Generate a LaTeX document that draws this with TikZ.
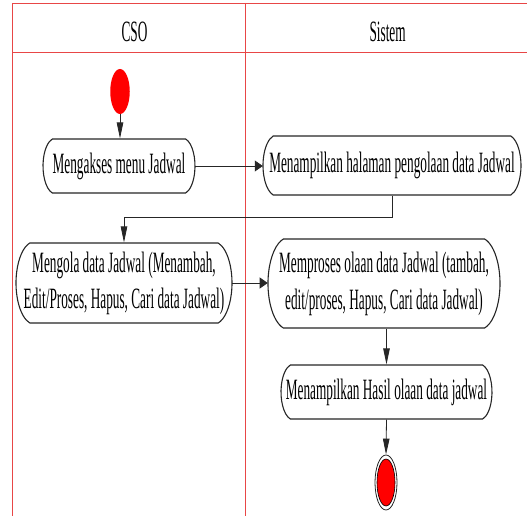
\documentclass[tikz,border=0pt]{standalone}
\usepackage{fontspec}
\setmainfont{Liberation Serif}
\usetikzlibrary{arrows.meta,shapes.misc,shapes.geometric}
\definecolor{lanered}{RGB}{232,70,70}

\begin{document}
\begin{tikzpicture}[x=1pt,y=1pt,
  lane/.style={draw=lanered,line width=0.9pt},
  lanehead/.style={inner sep=0pt,font=\fontsize{29.5}{36}\selectfont},
  act/.style={rounded rectangle, rounded rectangle arc length=150,
    draw=black!85, line width=1.1pt, fill=white, inner sep=0pt,
    font=\fontsize{29.5}{36.5}\selectfont},
  startdot/.style={ellipse, fill=red, inner sep=0pt,
    minimum width=19.5pt, minimum height=45pt},
  flow/.style={draw=black!85, line width=0.8pt},
  vtip/.style={flow, -{Triangle[length=16pt,width=6.5pt]}},
  htip/.style={flow, -{Triangle[length=8pt,width=11pt]}},
]
\useasboundingbox (0,0) rectangle (527,-516);

% swimlane frame
\draw[lane] (12.3,-540) -- (12.3,-3) -- (540,-3);
\draw[lane] (12.3,-52) -- (540,-52);
\draw[lane] (245.6,-3) -- (245.6,-540);

% condensed text and activity boxes
\begin{scope}[x=2.22222pt, xscale=0.45, transform shape]
  \node[lanehead] (cso) at (134.5,-32) {CSO};
  \node[lanehead] (sis) at (387.6,-32) {Sistem};
  \node[act, minimum width=337.8pt, minimum height=54pt] (n1) at (119,-166)
    {\makebox[0pt]{Mengakses menu Jadwal}};
  \node[act, minimum width=573.3pt, minimum height=59pt] (n2) at (392,-165.5)
    {\makebox[0pt]{Menampilkan halaman pengolaan data Jadwal}};
  \node[act, minimum width=480pt, minimum height=80pt] (n3) at (124,-283)
    {\makebox[0pt]{\begin{tabular}{@{}c@{}}Mengola data Jadwal (Menambah,\\Edit/Proses, Hapus, Cari data Jadwal)\end{tabular}}};
  \node[act, minimum width=515.6pt, minimum height=89pt] (n4) at (384,-283.5)
    {\makebox[0pt]{\begin{tabular}{@{}c@{}}Memproses olaan data Jadwal (tambah,\\edit/proses, Hapus, Cari data Jadwal)\end{tabular}}};
  \node[act, minimum width=468.9pt, minimum height=54pt] (n5) at (386.5,-392)
    {\makebox[0pt]{Menampilkan Hasil olaan data jadwal}};
\end{scope}

% initial and final states
\node[startdot] (start) at (120,-91.5) {};
\node[ellipse, draw=black!85, line width=0.8pt, fill=white, inner sep=0pt,
  minimum width=22pt, minimum height=55pt] (endo) at (386,-482.5) {};
\node[ellipse, draw=black, line width=0.6pt, fill=red, inner sep=0pt,
  minimum width=18pt, minimum height=47pt] (endi) at (endo.center) {};

% control flow
\draw[vtip] (start.south) -- (start.south |- n1.north);
\draw[htip] (n1.east) -- (n1.east -| n2.west);
\draw[vtip] (n2.south) -- ++(0,-22) -| (n3.north);
\draw[htip] (n3.east) -- (n3.east -| n4.west);
\draw[vtip] (n5.north |- n4.south) -- (n5.north);
\draw[vtip] (n5.south) -- (endo.north);
\end{tikzpicture}
\end{document}
